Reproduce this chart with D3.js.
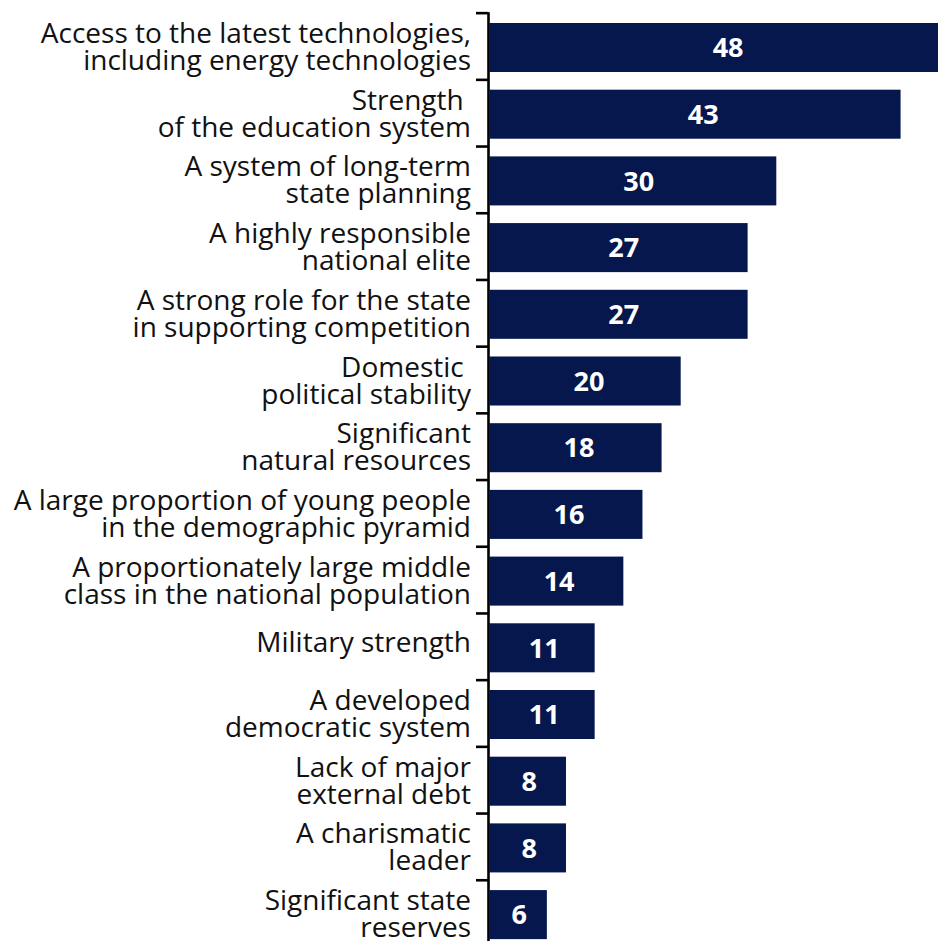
<!DOCTYPE html>
<html>
<head>
<meta charset="utf-8">
<script src="https://cdn.jsdelivr.net/npm/d3@7"></script>
<style>
  html, body { margin: 0; padding: 0; background: #fff; }
  svg { display: block; }
  .cat { font-family: "Open Sans", sans-serif; font-size: 28px; fill: #111; white-space: pre; }
  .val { font-family: "Open Sans", sans-serif; font-weight: 700; font-size: 27px; fill: #fff; }
</style>
</head>
<body>
<svg id="chart" width="938" height="941"></svg>
<script>
// Factors, top to bottom; each entry is the list of lines drawn for its label
const categories = [
  ["Access to the latest technologies,", "including energy technologies"],
  ["Strength ", "of the education system"],
  ["A system of long-term", "state planning"],
  ["A highly responsible", "national elite"],
  ["A strong role for the state", "in supporting competition"],
  ["Domestic ", "political stability"],
  ["Significant", "natural resources"],
  ["A large proportion of young people", "in the demographic pyramid"],
  ["A proportionately large middle", "class in the national population"],
  ["Military strength"],
  ["A developed", "democratic system"],
  ["Lack of major", "external debt"],
  ["A charismatic", "leader"],
  ["Significant state", "reserves"]
];

// Share of respondents, %
const values = [48, 43, 30, 27, 27, 20, 18, 16, 14, 11, 11, 8, 8, 6];

const keys = categories.map((c, i) => i);

const svg = d3.select("#chart");
const W = 938, H = 941;
const axisX = 489.5;

const x = d3.scaleLinear().domain([0, 50]).range([axisX, axisX + 478]);
const pad = 0.265;
const y = d3.scaleBand().domain(keys).range([14.15, 947.95])
  .paddingInner(pad).paddingOuter(pad / 2);
const gap = y.step() * pad / 2;

const barColor = "#06174e";

// Bars
svg.append("g").selectAll("rect").data(keys).join("rect")
  .attr("x", x(0))
  .attr("y", d => y(d))
  .attr("width", d => x(values[d]) - x(0))
  .attr("height", y.bandwidth())
  .attr("fill", barColor);

// Value labels inside bars
svg.append("g").selectAll("text").data(keys).join("text")
  .attr("class", "val")
  .attr("x", d => x(values[d] * 0.52))
  .attr("y", d => y(d) + y.bandwidth() / 2)
  .attr("dy", "0.36em")
  .attr("text-anchor", "middle")
  .text(d => values[d]);

// Vertical axis line with ticks between categories
const axis = svg.append("g").attr("stroke", "#000").attr("stroke-width", 2.6);
axis.append("line")
  .attr("x1", axisX - 1).attr("x2", axisX - 1)
  .attr("y1", y(0) - gap - 2).attr("y2", H);
axis.selectAll("line.tick").data(keys).join("line")
  .attr("class", "tick")
  .attr("x1", 476).attr("x2", axisX - 1)
  .attr("y1", d => y(d) - gap - 1)
  .attr("y2", d => y(d) - gap - 1);

// Category labels, right-aligned against the axis
const lineH = 27;
const labels = svg.append("g").selectAll("text").data(keys).join("text")
  .attr("class", "cat")
  .attr("text-anchor", "end")
  .attr("x", 471);
labels.each(function(d) {
  const lines = categories[d];
  const cy = y(d) + y.bandwidth() / 2 - (lines.length === 1 ? 6 : 1);
  const first = cy - (lines.length - 1) * lineH / 2;
  d3.select(this).selectAll("tspan").data(lines).join("tspan")
    .attr("x", 471)
    .attr("y", (l, i) => first + i * lineH)
    .attr("dy", "0.36em")
    .text(l => l);
});
</script>
</body>
</html>
